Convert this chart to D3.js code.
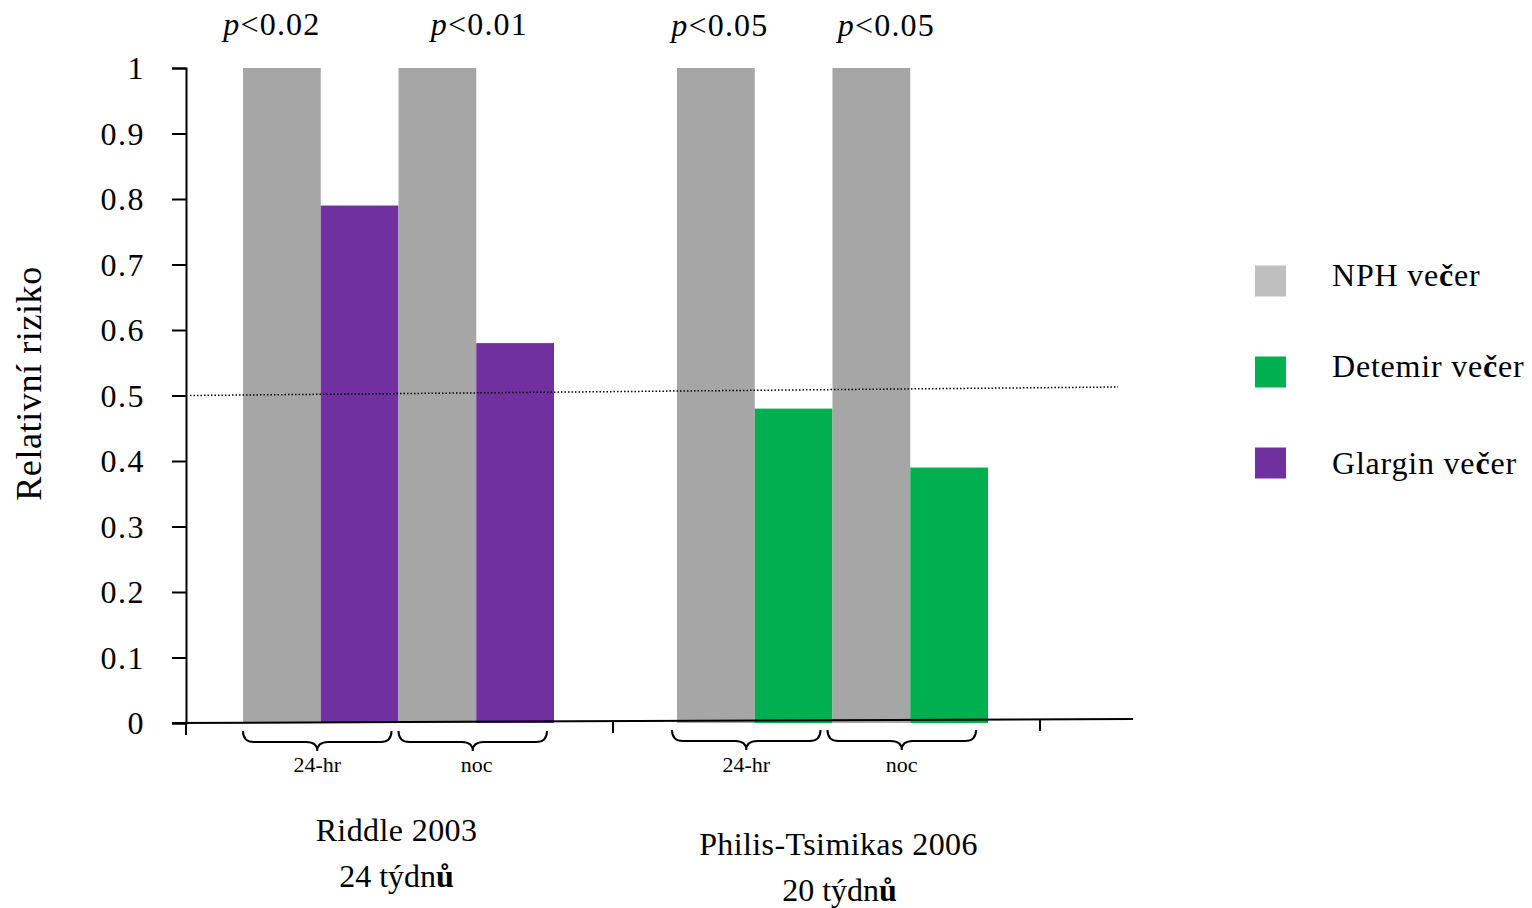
<!DOCTYPE html>
<html>
<head>
<meta charset="utf-8">
<script src="https://cdn.jsdelivr.net/npm/d3@7"></script>
<style>
  html, body { margin: 0; padding: 0; background: #fff; }
  svg { display: block; }
  text { font-family: "Liberation Serif", "DejaVu Serif", serif; fill: #000; }
</style>
</head>
<body>
<svg id="chart" width="1532" height="908"></svg>
<script>
// ---- data ----
const studies = ["Riddle 2003", "Philis-Tsimikas 2006"];
const studyDurations = ["24 týdnů", "20 týdnů"];
const periods = ["24-hr", "noc"];
const nphValues = [1.0, 1.0, 1.0, 1.0];            // Riddle 24-hr, Riddle noc, Philis 24-hr, Philis noc
const comparatorValues = [0.79, 0.58, 0.48, 0.39];
const comparatorSeries = ["Glargin večer", "Glargin večer", "Detemir večer", "Detemir večer"];
const pValues = ["0.02", "0.01", "0.05", "0.05"];
const legendLabels = ["NPH večer", "Detemir večer", "Glargin večer"];
const yTicks = [0, 0.1, 0.2, 0.3, 0.4, 0.5, 0.6, 0.7, 0.8, 0.9, 1];
const referenceLine = [0.5, 0.513];   // dotted line, left & right end values
const yTitle = "Relativní riziko";

// ---- styles ----
const barColors = { "NPH večer": "#A6A6A6", "Detemir večer": "#00B050", "Glargin večer": "#7030A0" };
const legendColors = { "NPH večer": "#BFBFBF", "Detemir večer": "#00B050", "Glargin večer": "#7030A0" };

const svg = d3.select("#chart");

// helper: render text with the Czech diacritic letters slightly heavier (as in the original)
function richText(sel, str) {
  const parts = str.split(/([čů])/);
  parts.forEach(p => {
    if (!p) return;
    const t = sel.append("tspan").text(p);
    if (p === "č" || p === "ů") t.style("font-weight", "bold");
  });
}

const y = d3.scaleLinear().domain([0, 1]).range([723, 68]);
const xg = d3.scaleBand().domain(studies).range([186, 1040]).padding(0);
const xs = d3.scaleBand().domain(d3.range(4)).range([60, 371]).padding(0);
const groupShift = { "Riddle 2003": -3, "Philis-Tsimikas 2006": 4 };
const gx = s => xg(s) + groupShift[s];

// table of bars
const bars = [];
studies.forEach((s, gi) => {
  periods.forEach((p, pi) => {
    const k = gi * 2 + pi;
    bars.push({ study: s, slot: pi * 2, series: "NPH večer", value: nphValues[k] });
    bars.push({ study: s, slot: pi * 2 + 1, series: comparatorSeries[k], value: comparatorValues[k] });
  });
});

// bars
svg.append("g").selectAll("rect").data(bars).join("rect")
  .attr("x", d => gx(d.study) + xs(d.slot))
  .attr("y", d => y(d.value))
  .attr("width", xs.bandwidth())
  .attr("height", d => y(0) - y(d.value))
  .attr("fill", d => barColors[d.series]);

// dotted reference line
const xLeft = xg.range()[0];
svg.append("line")
  .attr("x1", xLeft + 4).attr("y1", y(referenceLine[0]))
  .attr("x2", xg.range()[1] + 78).attr("y2", y(referenceLine[1]))
  .attr("stroke", "#000").attr("stroke-width", 1.5)
  .attr("stroke-dasharray", "1.5,2");

// y axis
const yAxis = svg.append("g")
  .attr("transform", `translate(${xLeft},0)`)
  .call(d3.axisLeft(y).tickValues(yTicks).tickSize(14).tickSizeOuter(14).tickPadding(27)
        .tickFormat(d => d === 0 ? "0" : d === 1 ? "1" : d3.format(".1f")(d)));
yAxis.selectAll("path, line").attr("stroke", "#000").attr("stroke-width", 2);
yAxis.selectAll("text").style("font-size", "32px").attr("dy", "0.33em")
  .style("letter-spacing", "1.5px")
  .style("font-family", '"Liberation Serif", serif');

// x axis baseline + ticks
svg.append("line")
  .attr("x1", xLeft - 14).attr("y1", y(0))
  .attr("x2", xg.range()[1] + 93).attr("y2", y(0) - 4)
  .attr("stroke", "#000").attr("stroke-width", 2);
const xTickPos = [xg.range()[0], xg(studies[1]), xg.range()[1]];
svg.append("g").selectAll("line").data(xTickPos).join("line")
  .attr("x1", d => d).attr("x2", d => d)
  .attr("y1", (d, i) => y(0) - (i * 2)).attr("y2", (d, i) => y(0) + 12 - (i * 2))
  .attr("stroke", "#000").attr("stroke-width", 2);

// y title
svg.append("text")
  .attr("transform", `translate(41,${y(0.5) - 12}) rotate(-90)`)
  .attr("text-anchor", "middle")
  .style("font-size", "36px")
  .style("letter-spacing", "0.6px")
  .text(yTitle);

// p-value labels
const pDx = [-10, 42, 4, 15];
const pData = pValues.map((v, k) => ({ v, study: studies[Math.floor(k / 2)], slot: (k % 2) * 2, k }));
const pText = svg.append("g").selectAll("text").data(pData).join("text")
  .attr("x", d => gx(d.study) + xs(d.slot) + xs.bandwidth() / 2 + pDx[d.k])
  .attr("y", d => 35 + (d.study === studies[1] ? 1 : 0))
  .attr("text-anchor", "middle")
  .style("font-size", "32px")
  .style("letter-spacing", "1.2px");
pText.append("tspan").style("font-style", "italic").text("p");
pText.append("tspan").text(d => "<" + d.v);

// braces and period labels
const braceData = [];
studies.forEach((s, gi) => periods.forEach((p, pi) => braceData.push({ study: s, period: p, pi, gi })));
function bracePath(x0, x1, yTop) {
  const m = (x0 + x1) / 2, h = 11, r = 11;
  return `M${x0},${yTop} Q${x0},${yTop + h} ${x0 + r},${yTop + h} L${m - r},${yTop + h} ` +
         `Q${m},${yTop + h} ${m},${yTop + h + 9} Q${m},${yTop + h} ${m + r},${yTop + h} ` +
         `L${x1 - r},${yTop + h} Q${x1},${yTop + h} ${x1},${yTop}`;
}
const braceShift = [0, -5];
braceData.forEach(d => {
  const x0 = gx(d.study) + xs(d.pi * 2) + braceShift[d.gi];
  const x1 = gx(d.study) + xs(d.pi * 2 + 1) + xs.bandwidth() - 7 + braceShift[d.gi];
  const yTop = 731 - d.gi;
  svg.append("path").attr("d", bracePath(x0, x1, yTop))
    .attr("fill", "none").attr("stroke", "#000").attr("stroke-width", 2);
  svg.append("text").attr("x", (x0 + x1) / 2 + (d.pi === 1 && d.gi === 0 ? 4 : 0)).attr("y", 772)
    .attr("text-anchor", "middle").style("font-size", "22px").text(d.period);
});

// study labels
const studyCenters = studies.map(s => xg(s) + (xs.range()[0] + xs.range()[1]) / 2);
const studyDx = [-5, 10];
const studyDy = [0, 14];
studies.forEach((s, i) => {
  svg.append("text").attr("x", studyCenters[i] + studyDx[i]).attr("y", 841 + studyDy[i])
    .attr("text-anchor", "middle").style("font-size", "32px").style("letter-spacing", "0.4px").text(s);
  const t = svg.append("text").attr("x", studyCenters[i] + studyDx[i] + i).attr("y", 887 + studyDy[i])
    .attr("text-anchor", "middle").style("font-size", "32px");
  richText(t, studyDurations[i]);
});

// legend
const legendRowY = [281, 372, 463];
const legendTextDy = [5, 5, 11];
const lg = svg.append("g").selectAll("g").data(legendLabels).join("g");
lg.append("rect")
  .attr("x", 1255).attr("y", (d, i) => legendRowY[i] - 15.5)
  .attr("width", 31).attr("height", 31)
  .attr("fill", d => legendColors[d]);
lg.append("text")
  .attr("x", 1332).attr("y", (d, i) => legendRowY[i] + legendTextDy[i])
  .style("font-size", "32px")
  .style("letter-spacing", "0.8px")
  .each(function (d) { richText(d3.select(this), d); });
</script>
</body>
</html>
